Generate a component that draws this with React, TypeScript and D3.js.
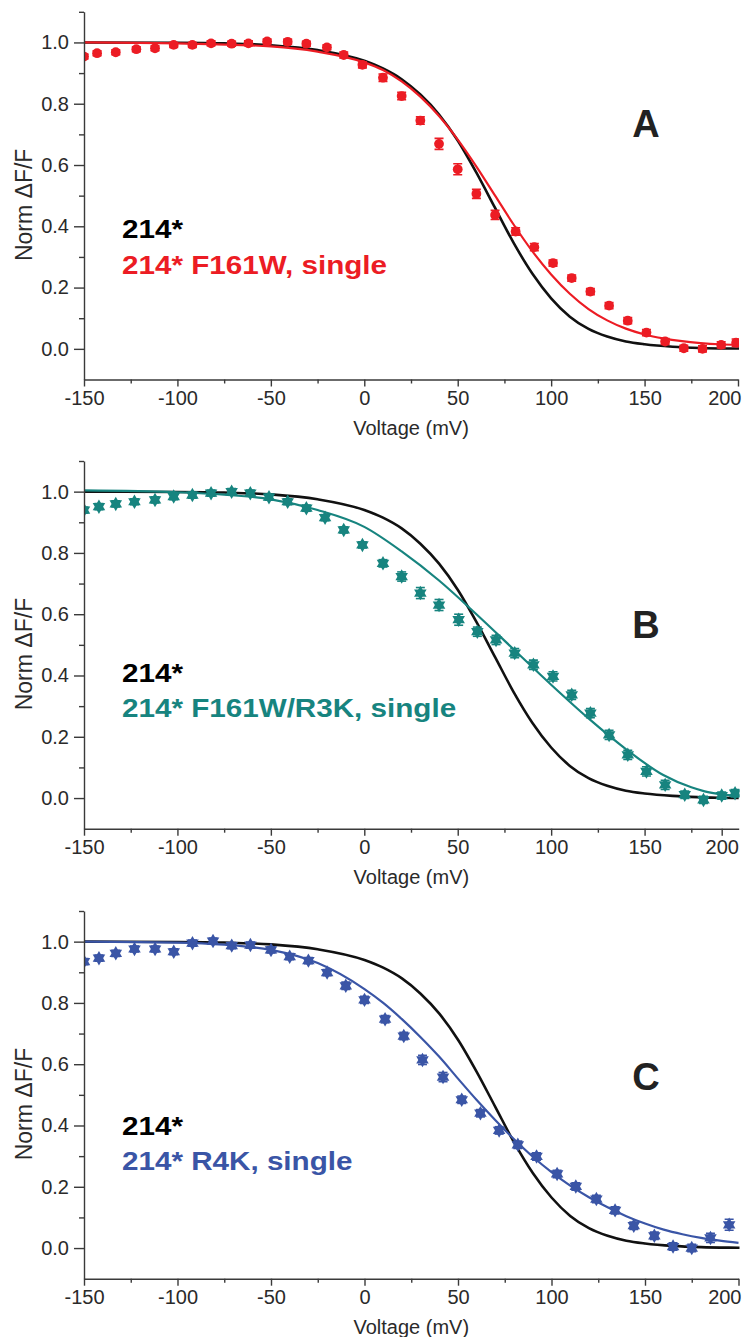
import React, { useEffect, useRef } from "react";
import * as d3 from "d3";

const W = 744;
const H = 1337;
const X0 = 84;
const PLOT_H = 367.7;
const FONT = "'Liberation Sans', Arial, Helvetica, sans-serif";

const RED = "#ec1c24";
const TEAL = "#17847f";
const BLUE = "#3a55a6";
const BLACK = "#111111";

// x / y ticks
const X_TICKS = [-150, -100, -50, 0, 50, 100, 150, 200];
const X_MINOR = [-125, -75, -25, 25, 75, 125, 175];
const Y_TICKS = [0, 0.2, 0.4, 0.6, 0.8, 1.0];
const Y_MINOR = [0.1, 0.3, 0.5, 0.7, 0.9, 1.1];

// Reference fit: 214* (black, same in all panels)
const REF_V = [-150, -100, -75, -50, -25, 0, 10, 20, 30, 40, 50, 60, 70, 80, 90, 100, 110, 120, 130, 140, 150, 165, 180, 200, 214];
const REF_Y = [1.0, 0.999, 0.997, 0.991, 0.975, 0.94, 0.915, 0.88, 0.83, 0.765, 0.68, 0.575, 0.46, 0.345, 0.245, 0.165, 0.105, 0.065, 0.04, 0.024, 0.015, 0.007, 0.003, 0.001, 0.0];

// Panel A: 214* F161W, single
const A_V = [-150, -143, -133, -122, -112, -102, -92, -82, -71, -62, -52, -41, -31, -20, -11, -1, 10, 20, 30, 40, 50, 60, 70, 81, 91, 101, 111, 121, 131, 141, 151, 161, 171, 181, 191, 199];
const A_Y = [0.954, 0.965, 0.968, 0.978, 0.981, 0.992, 0.992, 0.997, 0.996, 0.997, 1.003, 1.002, 0.996, 0.984, 0.959, 0.927, 0.885, 0.825, 0.745, 0.669, 0.586, 0.506, 0.437, 0.383, 0.332, 0.28, 0.231, 0.187, 0.141, 0.092, 0.053, 0.024, 0.002, 0.0, 0.013, 0.02];
const A_ERR = [0.008, 0.008, 0.008, 0.008, 0.008, 0.008, 0.008, 0.008, 0.008, 0.008, 0.008, 0.008, 0.008, 0.008, 0.01, 0.01, 0.012, 0.012, 0.012, 0.018, 0.018, 0.015, 0.015, 0.012, 0.012, 0.01, 0.01, 0.01, 0.01, 0.01, 0.01, 0.01, 0.01, 0.01, 0.01, 0.012];
const A_FIT_V = [-150, -100, -50, -25, 0, 10, 20, 30, 40, 50, 60, 70, 80, 90, 100, 110, 120, 130, 140, 150, 160, 170, 180, 190, 200];
const A_FIT_Y = [1.0, 0.997, 0.987, 0.97, 0.935, 0.91, 0.873, 0.823, 0.76, 0.683, 0.595, 0.5, 0.405, 0.318, 0.243, 0.18, 0.13, 0.093, 0.066, 0.047, 0.034, 0.025, 0.019, 0.015, 0.013];

// Panel B: 214* F161W/R3K, single
const B_V = [-150, -142, -133, -123, -112, -102, -92, -82, -71, -61, -51, -41, -31, -21, -11, -1, 10, 20, 30, 40, 50.5, 60.5, 70.5, 80.5, 90.5, 101, 111, 121, 131, 141, 151, 161, 171.5, 185, 200, 211];
const B_Y = [0.94, 0.951, 0.96, 0.967, 0.973, 0.984, 0.989, 0.995, 1.0, 0.995, 0.982, 0.967, 0.946, 0.915, 0.875, 0.826, 0.766, 0.723, 0.669, 0.63, 0.582, 0.543, 0.516, 0.473, 0.435, 0.397, 0.337, 0.277, 0.206, 0.141, 0.087, 0.043, 0.011, -0.006, 0.008, 0.016];
const B_ERR = [0.01, 0.01, 0.01, 0.01, 0.01, 0.01, 0.01, 0.01, 0.01, 0.01, 0.01, 0.01, 0.01, 0.01, 0.01, 0.01, 0.012, 0.015, 0.018, 0.018, 0.018, 0.015, 0.015, 0.015, 0.015, 0.015, 0.015, 0.015, 0.015, 0.015, 0.015, 0.015, 0.012, 0.012, 0.012, 0.012];
const B_FIT_V = [-150, -100, -75, -50, -25, 0, 20, 40, 60, 80, 100, 120, 140, 160, 175, 186, 200, 214];
const B_FIT_Y = [1.004, 0.998, 0.99, 0.975, 0.94, 0.885, 0.805, 0.71, 0.6, 0.485, 0.37, 0.26, 0.16, 0.075, 0.035, 0.022, 0.012, 0.006];

// Panel C: 214* R4K, single
const C_V = [-150, -142, -133, -123, -112, -102, -92, -81, -71, -61, -50, -40, -30, -20, -10, 0, 11, 21, 31, 42, 52, 62, 72, 82, 92, 103, 113, 124, 134, 144, 155, 165, 175, 185, 195];
const C_Y = [0.935, 0.946, 0.962, 0.976, 0.976, 0.967, 0.995, 1.002, 0.987, 0.989, 0.973, 0.951, 0.938, 0.899, 0.856, 0.81, 0.747, 0.692, 0.614, 0.558, 0.484, 0.44, 0.384, 0.337, 0.299, 0.242, 0.201, 0.16, 0.123, 0.073, 0.04, 0.005, 0.0, 0.033, 0.076];
const C_ERR = [0.01, 0.01, 0.01, 0.01, 0.01, 0.01, 0.01, 0.01, 0.01, 0.01, 0.01, 0.01, 0.01, 0.01, 0.012, 0.012, 0.012, 0.012, 0.015, 0.015, 0.012, 0.012, 0.012, 0.012, 0.012, 0.012, 0.012, 0.012, 0.012, 0.012, 0.012, 0.012, 0.012, 0.015, 0.018];
const C_FIT_V = [-150, -100, -75, -50, -25, 0, 10, 20, 30, 40, 50, 60, 70, 80, 90, 100, 110, 120, 130, 140, 150, 160, 170, 180, 190, 200];
const C_FIT_Y = [1.0, 0.997, 0.99, 0.973, 0.93, 0.845, 0.8, 0.747, 0.688, 0.624, 0.553, 0.483, 0.417, 0.355, 0.298, 0.248, 0.204, 0.166, 0.133, 0.104, 0.08, 0.06, 0.045, 0.033, 0.024, 0.017];

const LEGEND_REF = "214*";

const PANELS = [
  {
    key: "A", top: 11.8, color: RED, marker: "circle", label: "214* F161W, single",
    v: A_V, y: A_Y, err: A_ERR, fitV: A_FIT_V, fitY: A_FIT_Y,
    xDomain: [-150, 200], xRange: [X0, 738],
    letterDy: 125, legendDy: [226, 262],
  },
  {
    key: "B", top: 461, color: TEAL, marker: "star", label: "214* F161W/R3K, single",
    v: B_V, y: B_Y, err: B_ERR, fitV: B_FIT_V, fitY: B_FIT_Y,
    xDomain: [-150, 175, 200, 214], xRange: [X0, 691.3, 721.7, 738.7],
    letterDy: 177, legendDy: [221, 256],
  },
  {
    key: "C", top: 911, color: BLUE, marker: "star", label: "214* R4K, single",
    v: C_V, y: C_Y, err: C_ERR, fitV: C_FIT_V, fitY: C_FIT_Y,
    xDomain: [-150, 200], xRange: [X0, 738.5],
    letterDy: 179, legendDy: [224, 259],
  },
];

export default function App() {
  const ref = useRef<SVGSVGElement>(null);

  useEffect(() => {
    const svg = d3.select(ref.current);
    svg.selectAll("*").remove();
    const defs = svg.append("defs");

    PANELS.forEach((p) => {
      const xEnd = p.xRange[p.xRange.length - 1];
      const x = d3.scaleLinear().domain(p.xDomain).range(p.xRange);
      const y = d3.scaleLinear().domain([-0.1, 1.1]).range([p.top + PLOT_H, p.top]);
      const g = svg.append("g");

      const clipId = `clip-${p.key}`;
      defs.append("clipPath").attr("id", clipId).append("rect")
        .attr("x", X0).attr("y", p.top - 8)
        .attr("width", xEnd - X0 + 1).attr("height", PLOT_H + 8);

      const plot = g.append("g").attr("clip-path", `url(#${clipId})`);
      const line = d3.line<[number, number]>()
        .x((d) => x(d[0])).y((d) => y(d[1]))
        .curve(d3.curveMonotoneX);

      plot.append("path").datum(d3.zip(REF_V, REF_Y) as [number, number][])
        .attr("d", line).attr("fill", "none").attr("stroke", BLACK).attr("stroke-width", 2.6);
      plot.append("path").datum(d3.zip(p.fitV, p.fitY) as [number, number][])
        .attr("d", line).attr("fill", "none").attr("stroke", p.color).attr("stroke-width", 2.2);

      const pts = p.v.map((v, i) => ({ v, val: p.y[i], e: p.err[i] }));
      const eb = plot.append("g").attr("stroke", p.color).attr("stroke-width", 1.6);
      pts.forEach((d) => {
        const cx = x(d.v);
        const y1 = y(d.val + d.e);
        const y2 = y(d.val - d.e);
        eb.append("line").attr("x1", cx).attr("x2", cx).attr("y1", y1).attr("y2", y2);
        eb.append("line").attr("x1", cx - 4.5).attr("x2", cx + 4.5).attr("y1", y1).attr("y2", y1);
        eb.append("line").attr("x1", cx - 4.5).attr("x2", cx + 4.5).attr("y1", y2).attr("y2", y2);
      });

      const mk = plot.append("g").attr("fill", p.color);
      if (p.marker === "circle") {
        mk.selectAll("circle").data(pts).join("circle")
          .attr("cx", (d) => x(d.v)).attr("cy", (d) => y(d.val)).attr("r", 4.9);
      } else {
        const tri = d3.symbol().type(d3.symbolTriangle).size(68)();
        pts.forEach((d) => {
          const t = `translate(${x(d.v)},${y(d.val)})`;
          mk.append("path").attr("d", tri).attr("transform", t);
          mk.append("path").attr("d", tri).attr("transform", `${t} rotate(180)`);
        });
      }

      // axes
      const axisColor = "#3a3a3a";
      const xAxis = g.append("g").attr("transform", `translate(0,${p.top + PLOT_H})`)
        .call(d3.axisBottom(x).tickValues(X_TICKS).tickSize(7).tickSizeOuter(0).tickPadding(4)
          .tickFormat((d) => String(d)));
      const xMinor = g.append("g").attr("transform", `translate(0,${p.top + PLOT_H})`)
        .call(d3.axisBottom(x).tickValues(X_MINOR).tickSize(4).tickSizeOuter(0).tickFormat(() => ""));
      xMinor.select(".domain").remove();
      const yAxis = g.append("g").attr("transform", `translate(${X0},0)`)
        .call(d3.axisLeft(y).tickValues(Y_TICKS).tickSize(10).tickSizeOuter(0).tickPadding(5)
          .tickFormat(d3.format(".1f")));
      const yMinor = g.append("g").attr("transform", `translate(${X0},0)`)
        .call(d3.axisLeft(y).tickValues(Y_MINOR).tickSize(5).tickSizeOuter(0).tickFormat(() => ""));
      yMinor.select(".domain").remove();

      [xAxis, xMinor, yAxis, yMinor].forEach((a) => {
        a.attr("font-family", FONT).attr("font-size", 20);
        a.selectAll(".domain").attr("stroke", axisColor).attr("stroke-width", 1.4);
        a.selectAll(".tick line").attr("stroke", axisColor).attr("stroke-width", 1.4);
        a.selectAll(".tick text").attr("fill", "#2a2a2a");
      });

      // keep the last tick label inside the page (as in the original, it is pushed left)
      xAxis.selectAll<SVGGElement, number>(".tick").each(function (d) {
        const px = x(d);
        if (px + 17 > W - 2) {
          d3.select(this).select("text").attr("text-anchor", "end").attr("x", (W - 3) - px);
        }
      });

      // axis titles
      g.append("text")
        .attr("x", (X0 + xEnd) / 2).attr("y", p.top + PLOT_H + 55)
        .attr("text-anchor", "middle").attr("font-family", FONT).attr("font-size", 20)
        .attr("fill", "#2a2a2a").text("Voltage (mV)");
      g.append("text")
        .attr("transform", `translate(32,${y(0.47)}) rotate(-90)`)
        .attr("text-anchor", "middle").attr("font-family", FONT).attr("font-size", 23)
        .attr("fill", "#2a2a2a").text("Norm \u0394F/F");

      // panel letter
      g.append("text")
        .attr("x", 646).attr("y", p.top + p.letterDy)
        .attr("text-anchor", "middle").attr("font-family", FONT).attr("font-size", 38)
        .attr("font-weight", "bold").attr("fill", "#222").text(p.key);

      // legend
      g.append("text")
        .attr("transform", `translate(122,${p.top + p.legendDy[0]}) scale(1.14,1)`)
        .attr("font-family", FONT).attr("font-size", 26).attr("font-weight", "bold")
        .attr("fill", "#000").text(LEGEND_REF);
      g.append("text")
        .attr("transform", `translate(122,${p.top + p.legendDy[1]}) scale(1.14,1)`)
        .attr("font-family", FONT).attr("font-size", 26).attr("font-weight", "bold")
        .attr("fill", p.color).text(p.label);
    });
  }, []);

  return (
    <svg
      ref={ref}
      width={W}
      height={H}
      style={{ position: "absolute", left: 0, top: 0, background: "#fff", display: "block" }}
    />
  );
}
